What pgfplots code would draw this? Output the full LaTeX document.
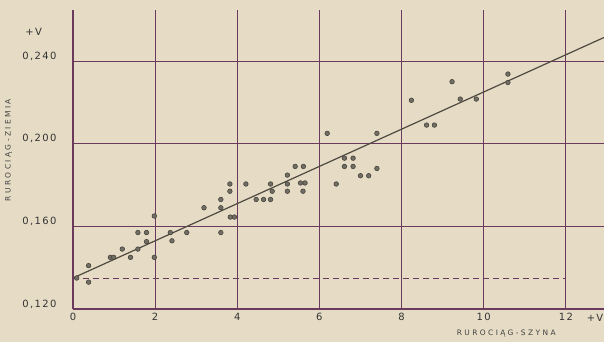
\documentclass[border=0pt]{standalone}
\usepackage{fontspec}
\setmainfont{DejaVu Sans}
\newfontfamily\labfont[LetterSpace=14]{DejaVu Sans}
\newfontfamily\capfont[LetterSpace=32]{DejaVu Sans}
\usepackage{pgfplots}
\pgfplotsset{compat=1.18}
\definecolor{bg}{HTML}{E6DCC5}
\definecolor{lc}{HTML}{6A3A5E}
\definecolor{pt}{HTML}{4E4A40}
\begin{document}
\begin{tikzpicture}[x=1bp,y=1bp]
\fill[bg] (-73,-33) rectangle (531,309);
\path[use as bounding box] (-73,-33) rectangle (531,309);
\begin{axis}[at={(0,0)}, anchor=south west, scale only axis,
  width=531bp, height=299bp,
  xmin=0, xmax=12.93, ymin=0.120, ymax=0.2647,
  axis x line=bottom, axis y line=left,
  axis line style={-, lc, line width=1.8bp},
  xtick={0,2,4,6,8,10,12}, xticklabels={0,2,4,6,8,10,12},
  ytick={0.120,0.160,0.200,0.240},
  yticklabels={{0,120},{0,160},{0,200},{0,240}},
  grid=major, major grid style={lc, line width=1bp},
  major tick length=0pt,
  ticklabel style={font=\labfont\fontsize{10}{11}\selectfont, text=black!80},
  yticklabel style={xshift=-13bp, yshift=5bp},
  xticklabel style={yshift=-1bp},
  clip=false,
]
\addplot[pt, line width=1.2bp, no marks] coordinates {(0,0.135) (12.93,0.2514)};
\addplot[lc, line width=1.2bp, dash pattern=on 6bp off 4bp, no marks] coordinates {(0,0.1348) (12,0.1348)};
\addplot[only marks, mark=*, mark size=2.3bp, mark options={fill=pt!80!white, draw=pt!90!black, line width=0.6bp}] coordinates {
(0.09,0.135) (0.38,0.141) (0.38,0.133) (0.91,0.145) (0.99,0.145)
(1.20,0.149) (1.40,0.145) (1.58,0.149) (1.58,0.157) (1.79,0.157)
(1.79,0.1526) (1.98,0.145) (1.98,0.165) (2.37,0.157) (2.41,0.153)
(2.77,0.157) (3.19,0.169) (3.60,0.173) (3.60,0.169) (3.60,0.157)
(3.82,0.1805) (3.82,0.177) (3.83,0.1645) (3.93,0.1645) (4.21,0.1805)
(4.46,0.173) (4.64,0.173) (4.81,0.173) (4.81,0.1805) (4.85,0.177)
(5.22,0.177) (5.22,0.1848) (5.22,0.1805) (5.41,0.189) (5.61,0.189)
(5.54,0.181) (5.65,0.181) (5.60,0.177) (6.19,0.205) (6.41,0.1805)
(6.61,0.193) (6.82,0.193) (6.61,0.189) (6.82,0.189) (7.00,0.1845)
(7.20,0.1845) (7.40,0.188) (7.40,0.205) (8.24,0.221) (8.61,0.209)
(8.80,0.209) (9.23,0.230) (9.43,0.2216) (9.82,0.2216) (10.59,0.2337)
(10.59,0.2296)
};
\node[font=\labfont\fontsize{10}{11}\selectfont, text=black!80] at (axis cs:-0.96,0.254) {+V};
\node[font=\labfont\fontsize{10}{11}\selectfont, text=black!80, anchor=east, inner sep=0.5bp] at (axis cs:12.93,0.1156) {+V};
\node[font=\capfont\fontsize{7.5}{8}\selectfont, text=black!75, rotate=90] at (axis cs:-1.57,0.1969) {RUROCIĄG-ZIEMIA};
\node[font=\capfont\fontsize{7.5}{8}\selectfont, text=black!75] at (axis cs:10.55,0.1084) {RUROCIĄG-SZYNA};
\end{axis}
\end{tikzpicture}
\end{document}
